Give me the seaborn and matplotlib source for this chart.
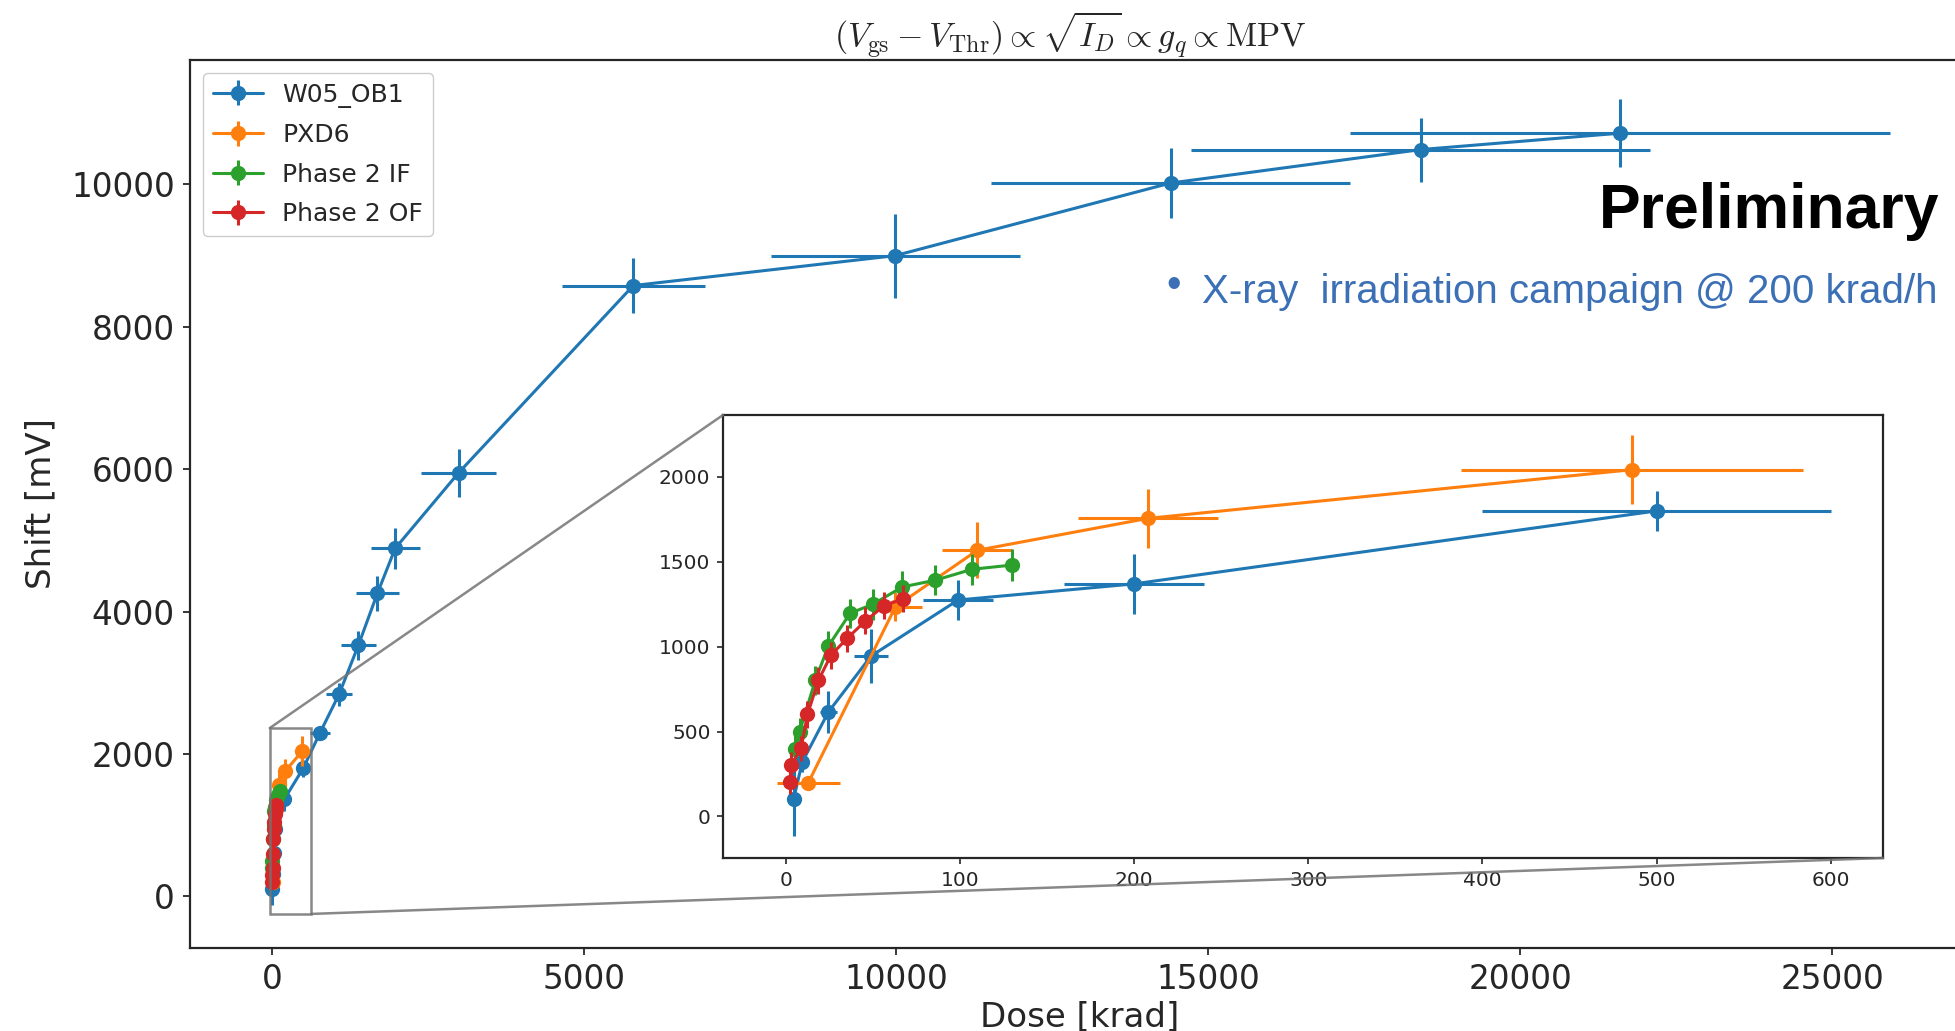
import matplotlib
matplotlib.use("Agg")
import matplotlib.pyplot as plt
import numpy as np
import pandas as pd
import seaborn as sns
from matplotlib.legend_handler import HandlerTuple
from matplotlib.patches import ConnectionPatch

# ---------------- data ----------------
series_names = ["W05_OB1", "PXD6", "Phase 2 IF", "Phase 2 OF"]

w05_dose = [4.5, 9.5, 24.5, 49, 99, 200, 500, 770, 1075, 1385, 1690, 1975, 2990,
            5790, 9985, 14400, 18410, 21600]
w05_shift = [100, 320, 615, 945, 1275, 1370, 1800, 2300, 2840, 3530, 4260, 4890, 5950,
             8580, 9000, 10020, 10490, 10720]
w05_dose_err = [1, 2, 5, 10, 20, 40, 100, 154, 215, 277, 338, 395, 598,
                1150, 1995, 2870, 3680, 4330]
w05_shift_err = [215, 60, 125, 160, 120, 175, 120, 100, 160, 205, 245, 285, 335,
                 390, 590, 495, 450, 475]

pxd6_dose = [13, 63, 110, 208, 486]
pxd6_shift = [199, 1235, 1568, 1756, 2043]
pxd6_dose_err = [18, 15, 20, 40, 98]
pxd6_shift_err = [35, 85, 165, 175, 205]

if_dose = [5.6, 8.0, 17, 24.5, 37, 50, 67, 86, 107, 130]
if_shift = [400, 500, 802, 1004, 1197, 1250, 1352, 1392, 1456, 1481]
if_dose_err = [1, 1, 1, 1, 1, 1, 1, 1, 1, 1]
if_shift_err = [80, 80, 85, 90, 85, 90, 95, 90, 90, 95]

of_dose = [2.5, 3.2, 8.8, 12.5, 18.8, 26, 35.4, 45.8, 56.5, 67.6]
of_shift = [205, 303, 401, 601, 802, 950, 1050, 1152, 1241, 1283]
of_dose_err = [1, 1, 1, 1, 1, 1, 1, 1, 1, 1]
of_shift_err = [75, 75, 75, 80, 80, 80, 80, 80, 80, 80]

main_xticks = [0, 5000, 10000, 15000, 20000, 25000]
main_yticks = [0, 2000, 4000, 6000, 8000, 10000]
inset_xticks = [0, 100, 200, 300, 400, 500, 600]
inset_yticks = [0, 500, 1000, 1500, 2000]
inset_max_dose = 600   # inset shows the low-dose part of each series

title_text = r"$(V_{\rm gs} - V_{\rm Thr}) \propto \sqrt{I_D} \propto g_q \propto {\rm MPV}$"

# ---------------- style ----------------
sns.set_theme(style="ticks", palette="tab10")
plt.rcParams["font.family"] = ["DejaVu Sans"]
plt.rcParams["mathtext.fontset"] = "cm"
plt.rcParams["axes.edgecolor"] = "0.15"
plt.rcParams["axes.linewidth"] = 1.6

colors = sns.color_palette("tab10", 4)

series = [
    (w05_dose, w05_shift, w05_dose_err, w05_shift_err),
    (pxd6_dose, pxd6_shift, pxd6_dose_err, pxd6_shift_err),
    (if_dose, if_shift, if_dose_err, if_shift_err),
    (of_dose, of_shift, of_dose_err, of_shift_err),
]

W, H = 1955, 1031
fig = plt.figure(figsize=(W / 100, H / 100), dpi=100)
fig.patch.set_facecolor("white")

# main axes (extends a bit beyond the right edge like the reference crop)
ax = fig.add_axes([190 / W, 1 - 947.6 / H, (2000 - 190) / W, (947.6 - 60) / H])
# inset axes
axins = fig.add_axes([723 / W, 1 - 858 / H, (1883 - 723) / W, (858 - 415) / H])


def draw(a, ms, lw, dmax=None):
    handles = []
    for (d, s, de, se), c, name in zip(series, colors, series_names):
        df = pd.DataFrame({"dose": d, "shift": s, "de": de, "se": se})
        if dmax is not None:
            df = df[df["dose"] <= dmax]
        sns.lineplot(data=df, x="dose", y="shift", ax=a, color=c, marker="o",
                     markersize=ms, markeredgewidth=0, linewidth=lw,
                     estimator=None, sort=False, legend=False)
        line = a.lines[-1]
        eb = a.errorbar(df["dose"], df["shift"], xerr=df["de"], yerr=df["se"],
                        fmt="none", ecolor=c, elinewidth=lw, capsize=0)
        handles.append((line, eb))
    return handles


handles = draw(ax, 11, 2.2)
draw(axins, 11, 2.2, dmax=inset_max_dose)

ax.set_xlim(-1314, 27692)
ax.set_ylim(-718, 11748)
ax.set_xticks(main_xticks)
ax.set_yticks(main_yticks)
ax.tick_params(labelsize=23.5, length=5, width=1.3, pad=6)
ax.set_xlabel("Dose [krad]", fontsize=24.5)
ax.set_ylabel("Shift [mV]", fontsize=24.5, labelpad=10)
ax.xaxis.set_label_coords((1080 - 190) / 1810, -0.06)

axins.set_xlim(-36, 630)
axins.set_ylim(-245, 2365)
axins.set_xticks(inset_xticks)
axins.set_yticks(inset_yticks)
axins.tick_params(labelsize=14.5, length=4, width=1.2, pad=5)
axins.set_xlabel("")
axins.set_ylabel("")
for sp in axins.spines.values():
    sp.set_linewidth(1.6)

# zoom indicator rectangle + connectors (derived from the inset limits)
ix0, ix1 = axins.get_xlim()
iy0, iy1 = axins.get_ylim()
ax.indicate_inset((ix0, iy0, ix1 - ix0, iy1 - iy0), edgecolor="0.45",
                  linewidth=1.8, alpha=0.85)
for xyA, xyB in [((ix0, iy1), (0, 1)), ((ix1, iy0), (1, 0))]:
    cp = ConnectionPatch(xyA=xyA, coordsA=ax.transData, xyB=xyB,
                         coordsB=axins.transAxes, color="0.45", linewidth=1.8,
                         alpha=0.85, zorder=3)
    fig.add_artist(cp)

leg = ax.legend(handles, series_names, loc="upper left", fontsize=18,
                frameon=True, fancybox=True, edgecolor="0.8", framealpha=1.0,
                labelspacing=0.62,
                handler_map={tuple: HandlerTuple(ndivide=1)})

# texts
fig.text(1070 / W, 1 - 35 / H, title_text, ha="center", va="center", fontsize=24.5)
fig.text(1939 / W, 1 - 228 / H, "Preliminary", ha="right", va="baseline",
         fontsize=45, fontweight="bold", family=["Liberation Sans", "DejaVu Sans"],
         color="black")
fig.text(1937 / W, 1 - 303 / H, "X-ray  irradiation campaign @ 200 krad/h",
         ha="right", va="baseline", fontsize=29, color="#3b70b6",
         family=["Liberation Sans", "DejaVu Sans"])
fig.text(1174 / W, 1 - 286 / H, "\u2022", ha="center", va="center", fontsize=30,
         color="#3b70b6", family=["Liberation Sans", "DejaVu Sans"])

fig.savefig("out.png", dpi=100, facecolor="white")
